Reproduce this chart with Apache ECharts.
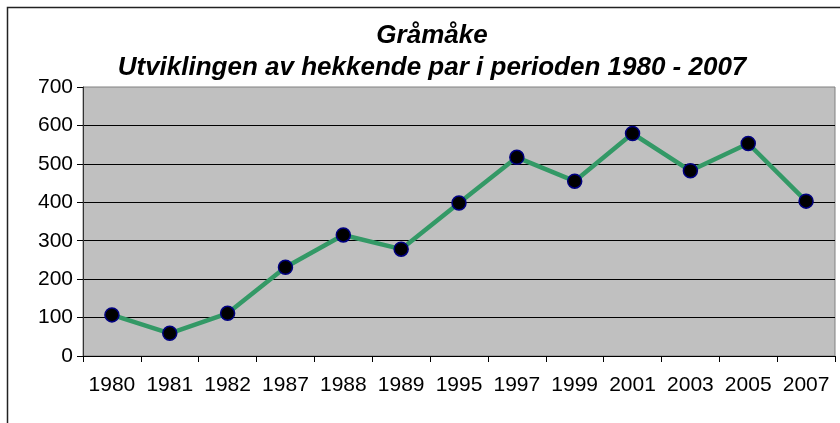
<!DOCTYPE html>
<html>
<head>
<meta charset="utf-8">
<script src="https://cdn.jsdelivr.net/npm/echarts@6/dist/echarts.min.js"></script>
<style>
  html, body { margin: 0; padding: 0; background: #fff; }
  #chart { width: 840px; height: 423px; }
</style>
</head>
<body>
<div id="chart"></div>
<script>
const years = ['1980', '1981', '1982', '1987', '1988', '1989', '1995', '1997', '1999', '2001', '2003', '2005', '2007'];
const pairs = [107, 59, 111, 231, 315, 278, 398, 517, 455, 579, 482, 553, 403];
const titleLines = ['Gråmåke', 'Utviklingen av hekkende par i perioden 1980 - 2007'];

const chart = echarts.init(document.getElementById('chart'));
chart.setOption({
  backgroundColor: '#fff',
  animation: false,
  title: {
    text: titleLines.join('\n'),
    left: 432,
    textAlign: 'center',
    top: 20,
    padding: 0,
    textStyle: {
      fontFamily: 'Liberation Sans, Arial, sans-serif',
      fontSize: 26,
      fontWeight: 'bold',
      fontStyle: 'italic',
      color: '#000',
      lineHeight: 32
    }
  },
  graphic: [{
    type: 'rect',
    shape: { x: 7.5, y: 7.5, width: 850, height: 430 },
    style: { fill: 'none', stroke: '#222', lineWidth: 1.5 },
    silent: true
  }],
  grid: {
    left: 83, right: 5, top: 87, bottom: 67,
    show: true,
    backgroundColor: '#c0c0c0',
    borderColor: '#808080',
    borderWidth: 1
  },
  xAxis: {
    type: 'category',
    data: years,
    boundaryGap: true,
    axisLine: { lineStyle: { color: '#000', width: 1 } },
    axisTick: { show: true, length: 6, lineStyle: { color: '#000' } },
    axisLabel: {
      interval: 0,
      margin: 19,
      fontFamily: 'Liberation Sans, Arial, sans-serif',
      fontSize: 21,
      color: '#000'
    }
  },
  yAxis: {
    type: 'value',
    min: 0,
    max: 700,
    interval: 100,
    axisLine: { show: true, lineStyle: { color: '#333', width: 1 } },
    axisTick: { show: true, length: 6, lineStyle: { color: '#000' } },
    axisLabel: {
      margin: 10,
      fontFamily: 'Liberation Sans, Arial, sans-serif',
      fontSize: 21,
      color: '#000'
    },
    splitLine: {
      show: true,
      showMinLine: false,
      showMaxLine: false,
      lineStyle: { color: '#000', width: 1 }
    }
  },
  series: [{
    type: 'line',
    data: pairs,
    lineStyle: { color: '#339966', width: 4.5 },
    symbol: 'circle',
    symbolSize: 14,
    itemStyle: { color: '#000', borderColor: '#000080', borderWidth: 1.5 },
    z: 3
  }]
});
</script>
</body>
</html>
